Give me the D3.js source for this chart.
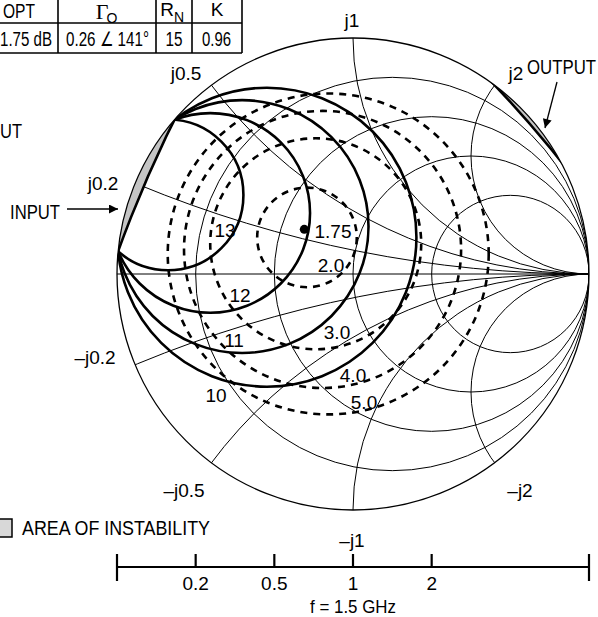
<!DOCTYPE html>
<html><head><meta charset="utf-8">
<script src="https://cdn.jsdelivr.net/npm/d3@7"></script>
<style>
body{margin:0;background:#fff;}
svg{display:block;}
text{font-family:"Liberation Sans",Arial,sans-serif;fill:#000;}
</style></head><body>
<svg id="chart" width="598" height="617"></svg>
<script>
// ---------- data ----------
const resistanceValues = [0.2, 0.5, 1, 2];
const reactanceValues = [0.2, 0.5, 1, 2, -0.2, -0.5, -1, -2];
const reactanceLabels = ["j0.2", "j0.5", "j1", "j2", "\u2013j0.2", "\u2013j0.5", "\u2013j1", "\u2013j2"];
const scaleTicks = [0.2, 0.5, 1, 2];
const scaleTickLabels = ["0.2", "0.5", "1", "2"];
const gainLevels = ["13", "12", "11", "10"];
const gainFarPointX = [-0.465, -0.182, -0.466, -0.364];
const gainFarPointY = [0.356, 0.2585, -0.3347, -0.4775];
const noiseLevels = ["2.0", "3.0", "4.0", "5.0"];
const noiseCenterX = [-0.195, -0.158, -0.129, -0.105];
const noiseCenterY = [0.155, 0.128, 0.104, 0.085];
const noiseRadius = [0.211, 0.447, 0.587, 0.680];
const optimumLabel = "1.75";
const optimumMag = 0.28, optimumAngleDeg = 137.5;
const stabilityNames = ["INPUT", "OUTPUT"];
const stabilityCenterX = [4.092, -3.105];
const stabilityCenterY = [-1.750, -2.704];
const stabilityRadius = [5.412, 5.100];
const tableHeaders = ["OPT", "\u0393", "R", "K"];
const tableValues = ["1.75 dB", "0.26 \u2220 141\u00B0", "15", "0.96"];

// ---------- layout ----------
const svg = d3.select("#chart");
const cx = 353, cy = 274, R = 236;
const x = d3.scaleLinear().domain([-1, 1]).range([cx - R, cx + R]);
const y = d3.scaleLinear().domain([-1, 1]).range([cy + R, cy - R]);
const k = R; // px per unit Gamma
const FS = 19, FB = 21;

const defs = svg.append("defs");
defs.append("clipPath").attr("id", "clipUnit")
  .append("circle").attr("cx", x(0)).attr("cy", y(0)).attr("r", k * 1);
defs.append("clipPath").attr("id", "clipStableIn")
  .append("circle").attr("cx", x(stabilityCenterX[0])).attr("cy", y(stabilityCenterY[0])).attr("r", k * stabilityRadius[0]);

// ---------- Smith grid ----------
const grid = svg.append("g").attr("clip-path", "url(#clipUnit)")
  .attr("fill", "none").attr("stroke", "#000").attr("stroke-width", 1);
grid.selectAll("circle.r").data(resistanceValues).join("circle").attr("class", "r")
  .attr("cx", r => x(r / (1 + r))).attr("cy", y(0)).attr("r", r => k / (1 + r));
grid.selectAll("circle.x").data(reactanceValues).join("circle").attr("class", "x")
  .attr("cx", x(1)).attr("cy", v => y(1 / v)).attr("r", v => k / Math.abs(v));
grid.append("line").attr("x1", x(-1)).attr("x2", x(1)).attr("y1", y(0)).attr("y2", y(0));

// ---------- stability regions ----------
stabilityNames.forEach((n, i) => {
  const scx = x(stabilityCenterX[i]), scy = y(stabilityCenterY[i]), sr = k * stabilityRadius[i];
  const g = svg.append("g").attr("clip-path", "url(#clipUnit)");
  const p = `M-2000,-2000H3000V3000H-2000Z M${scx - sr},${scy} a${sr},${sr} 0 1,0 ${2 * sr},0 a${sr},${sr} 0 1,0 ${-2 * sr},0Z`;
  g.append("path").attr("d", p).attr("fill", "#c4c4c4").attr("fill-rule", "evenodd").attr("stroke", "none");
  g.append("circle").attr("cx", scx).attr("cy", scy).attr("r", sr)
    .attr("fill", "none").attr("stroke", "#000").attr("stroke-width", 2.6);
});
svg.append("circle").attr("cx", x(0)).attr("cy", y(0)).attr("r", k)
  .attr("fill", "none").attr("stroke", "#000").attr("stroke-width", 1.3);

// ---------- gain circles (through stability/unit-circle intersections) ----------
function unitIntersections(ccx, ccy, rho) {
  const d = Math.hypot(ccx, ccy);
  const a = (1 - rho * rho + d * d) / (2 * d);
  const h = Math.sqrt(1 - a * a);
  const ux = ccx / d, uy = ccy / d;
  return [[a * ux - h * uy, a * uy + h * ux], [a * ux + h * uy, a * uy - h * ux]];
}
function circleFrom3(p1, p2, p3) {
  const [ax, ay] = p1, [bx, by] = p2, [qx, qy] = p3;
  const d = 2 * (ax * (by - qy) + bx * (qy - ay) + qx * (ay - by));
  const ux = ((ax * ax + ay * ay) * (by - qy) + (bx * bx + by * by) * (qy - ay) + (qx * qx + qy * qy) * (ay - by)) / d;
  const uy = ((ax * ax + ay * ay) * (qx - bx) + (bx * bx + by * by) * (ax - qx) + (qx * qx + qy * qy) * (bx - ax)) / d;
  return [ux, uy, Math.hypot(ax - ux, ay - uy)];
}
const [P1, P2] = unitIntersections(stabilityCenterX[0], stabilityCenterY[0], stabilityRadius[0]);
const gainCircles = gainLevels.map((g, i) => circleFrom3(P1, P2, [gainFarPointX[i], gainFarPointY[i]]));
svg.append("g").attr("clip-path", "url(#clipUnit)")
  .append("g").attr("clip-path", "url(#clipStableIn)")
  .selectAll("circle").data(gainCircles).join("circle")
  .attr("cx", c => x(c[0])).attr("cy", c => y(c[1])).attr("r", c => k * c[2])
  .attr("fill", "none").attr("stroke", "#000").attr("stroke-width", 2.6);

// ---------- noise circles ----------
svg.append("g").attr("clip-path", "url(#clipUnit)")
  .selectAll("circle").data(noiseLevels).join("circle")
  .attr("cx", (d, i) => x(noiseCenterX[i])).attr("cy", (d, i) => y(noiseCenterY[i]))
  .attr("r", (d, i) => k * noiseRadius[i])
  .attr("fill", "none").attr("stroke", "#000").attr("stroke-width", 2.6)
  .attr("stroke-dasharray", "7,6");

// optimum point
const oa = optimumAngleDeg * Math.PI / 180;
svg.append("circle").attr("cx", x(optimumMag * Math.cos(oa))).attr("cy", y(optimumMag * Math.sin(oa)))
  .attr("r", 4.5).attr("fill", "#000");

// ---------- labels ----------
const T = (t, px, py, anchor = "middle", fs = FS, len = null) => {
  const e = svg.append("text").attr("x", px).attr("y", py).attr("text-anchor", anchor).attr("font-size", fs).text(t);
  if (len) e.attr("textLength", len).attr("lengthAdjust", "spacingAndGlyphs");
  return e;
};

const reactLabelPos = [[103, 190], [186, 80], [352, 27], [516, 80], [95, 364], [184, 497], [352, 547], [520, 497]];
reactanceLabels.forEach((t, i) => T(t, reactLabelPos[i][0], reactLabelPos[i][1]));

const gainLabelPos = [[225, 237], [240, 302], [234, 347], [216, 402]];
gainLevels.forEach((t, i) => T(t, gainLabelPos[i][0], gainLabelPos[i][1]));

T(optimumLabel, 333, 238);
const noiseLabelPos = [[331, 272], [337, 339], [353, 382], [364, 409]];
noiseLevels.forEach((t, i) => T(t, noiseLabelPos[i][0], noiseLabelPos[i][1]));

// INPUT / OUTPUT annotations
T(stabilityNames[0], 10, 219, "start", FB, 50);
T(stabilityNames[1], 527, 74, "start", FB, 69);
T("UT", 0, 138, "start", FB, 22);
defs.append("marker").attr("id", "arr").attr("viewBox", "0 0 10 10").attr("refX", 10).attr("refY", 5)
  .attr("markerWidth", 15).attr("markerHeight", 9).attr("markerUnits", "userSpaceOnUse").attr("orient", "auto")
  .append("path").attr("d", "M0,0L10,5L0,10Z").attr("fill", "#000");
svg.append("line").attr("x1", 67).attr("y1", 209).attr("x2", 118).attr("y2", 209)
  .attr("stroke", "#000").attr("stroke-width", 1.3).attr("marker-end", "url(#arr)");
svg.append("line").attr("x1", 557).attr("y1", 82).attr("x2", 545).attr("y2", 128)
  .attr("stroke", "#000").attr("stroke-width", 1.3).attr("marker-end", "url(#arr)");

// legend
svg.append("rect").attr("x", -6).attr("y", 519).attr("width", 18).attr("height", 18)
  .attr("fill", "#d8d8d8").attr("stroke", "#000").attr("stroke-width", 1.5);
T("AREA OF INSTABILITY", 22, 535, "start", FB, 188);

// ---------- bottom scale ----------
const sy = 567;
const sc = svg.append("g").attr("stroke", "#000").attr("stroke-width", 2.2);
sc.append("line").attr("x1", x(-1)).attr("x2", x(1)).attr("y1", sy).attr("y2", sy);
[-1, 1].forEach(v => sc.append("line").attr("x1", x(v)).attr("x2", x(v)).attr("y1", sy - 13).attr("y2", sy + 14));
sc.selectAll("line.t").data(scaleTicks).join("line").attr("class", "t")
  .attr("x1", r => x((r - 1) / (r + 1))).attr("x2", r => x((r - 1) / (r + 1)))
  .attr("y1", sy - 13).attr("y2", sy);
scaleTicks.forEach((r, i) => T(scaleTickLabels[i], x((r - 1) / (r + 1)), 590));
T("f = 1.5 GHz", x(0), 613, "middle", FS, 86);

// ---------- table ----------
const tb = svg.append("g").attr("stroke", "#000").attr("stroke-width", 1.6);
[23, 53].forEach(v => tb.append("line").attr("x1", 0).attr("x2", 242).attr("y1", v).attr("y2", v));
[58, 156, 192, 242].forEach(v => tb.append("line").attr("x1", v).attr("x2", v).attr("y1", 0).attr("y2", 53));
T(tableHeaders[0], 19, 18, "middle", 20, 32);
svg.append("text").attr("x", 102).attr("y", 19).attr("text-anchor", "middle").attr("font-size", 22)
  .style("font-family", "'Liberation Serif','Times New Roman',serif").text(tableHeaders[1]);
T("O", 112, 23, "middle", 14);
T(tableHeaders[2], 167, 16);
T("N", 179, 22, "middle", 14);
T(tableHeaders[3], 217, 16);
T(tableValues[0], 0, 46, "start", 20, 52);
T(tableValues[1], 66, 46, "start", 20, 83);
T(tableValues[2], 174, 46, "middle", 20, 17);
T(tableValues[3], 202, 46, "start", 20, 29);
</script>
</body></html>
